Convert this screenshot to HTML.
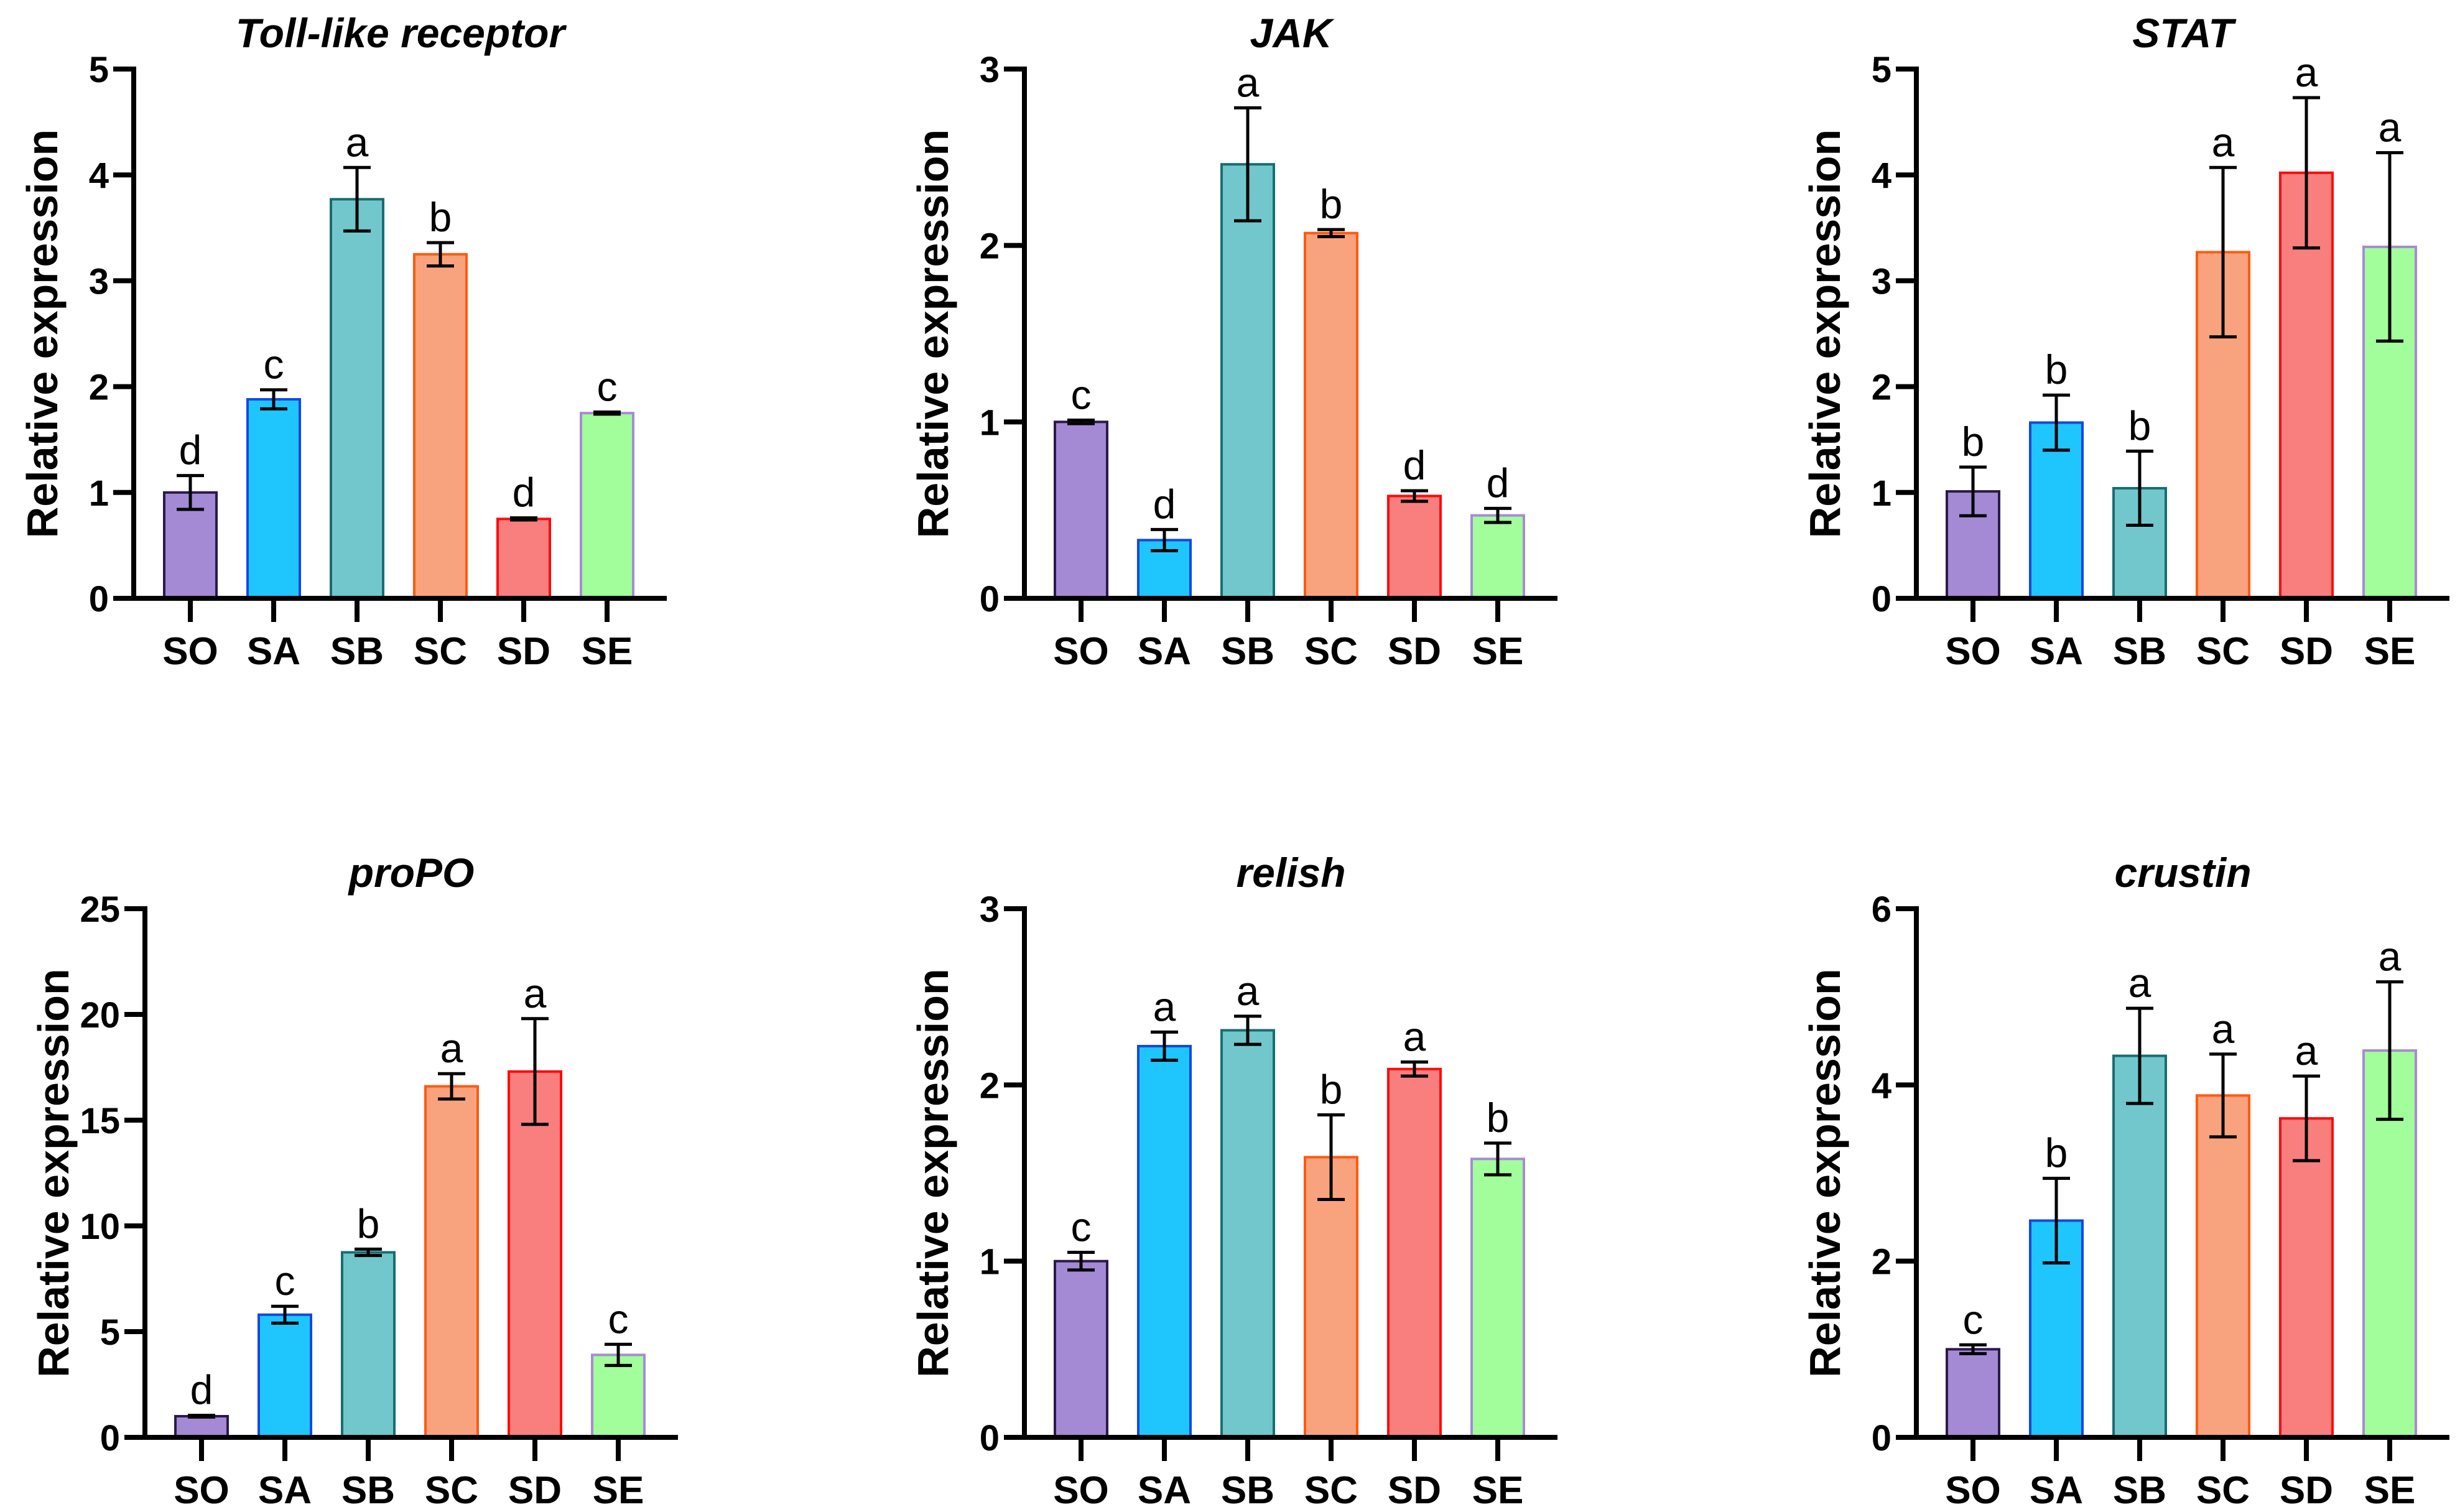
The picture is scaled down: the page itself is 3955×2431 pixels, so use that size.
<!DOCTYPE html>
<html><head><meta charset="utf-8"><style>
html,body{margin:0;padding:0;background:#fff;}
svg{display:block;}
text{font-family:"Liberation Sans",Arial,sans-serif;}
</style></head><body>
<svg id="fig" width="3955" height="2431" viewBox="0 0 3955 2431" xmlns="http://www.w3.org/2000/svg"></svg>
<script>
const categories = ["SO","SA","SB","SC","SD","SE"];
const fills = ["#a48ad4","#1ec6fd","#71c7cc","#f9a37e","#f97e7e","#a2fe9a"];
const strokes = ["#2a1a4a","#1646e6","#176d72","#ff5a10","#ff0a0a","#a68bd6"];

const tollMeans = [1.0,1.88,3.77,3.25,0.75,1.75];
const tollErrs = [0.16,0.09,0.30,0.11,0.01,0.01];
const tollLetters = ["d","c","a","b","d","c"];
const tollTicks = [0,1,2,3,4,5];

const jakMeans = [1.0,0.33,2.46,2.07,0.58,0.47];
const jakErrs = [0.01,0.06,0.32,0.02,0.03,0.04];
const jakLetters = ["c","d","a","b","d","d"];
const jakTicks = [0,1,2,3];

const statMeans = [1.01,1.66,1.04,3.27,4.02,3.32];
const statErrs = [0.23,0.26,0.35,0.80,0.71,0.89];
const statLetters = ["b","b","b","a","a","a"];
const statTicks = [0,1,2,3,4,5];

const propoMeans = [1.0,5.8,8.75,16.6,17.3,3.9];
const propoErrs = [0.04,0.4,0.15,0.6,2.5,0.5];
const propoLetters = ["d","c","b","a","a","c"];
const propoTicks = [0,5,10,15,20,25];

const relishMeans = [1.0,2.22,2.31,1.59,2.09,1.58];
const relishErrs = [0.05,0.08,0.08,0.24,0.04,0.09];
const relishLetters = ["c","a","a","b","a","b"];
const relishTicks = [0,1,2,3];

const crustinMeans = [1.0,2.46,4.33,3.88,3.62,4.39];
const crustinErrs = [0.05,0.48,0.54,0.47,0.48,0.78];
const crustinLetters = ["c","b","a","a","a","a"];
const crustinTicks = [0,2,4,6];

const NS = "http://www.w3.org/2000/svg";
const svg = document.getElementById("fig");
function mk(tag, attrs, parent){
  const e = document.createElementNS(NS, tag);
  for (const k in attrs) e.setAttribute(k, attrs[k]);
  parent.appendChild(e);
  return e;
}

function panel(name, title, axisX, zeroY, topY, means, errs, letters, ticks){
  const g = mk("g", {}, svg);
  
  
  const maxV = ticks[ticks.length-1];
  const y = v => zeroY - (v/maxV)*(zeroY-topY);
  const x = i => axisX + 91 + i*134;
  const axisEnd = axisX + 857;
  const t = mk("text", {x:(axisX+axisEnd)/2, y:topY-35, "text-anchor":"middle", "font-size":66, "font-weight":"bold", "font-style":"italic", fill:"#000"}, g);
  t.textContent = title;
  
  
  const yl = mk("text", {x:0, y:0, transform:`translate(${axisX-123},${(zeroY+topY)/2}) rotate(-90)`, "text-anchor":"middle", "font-size":70, "font-weight":"bold", fill:"#000"}, g);
  yl.textContent = "Relative expression";
  
  
  means.forEach((m,i)=>{
    const r = mk("rect", {x:x(i)-42, y:y(m), width:84, height:zeroY-y(m), fill:fills[i], stroke:strokes[i], "stroke-width":4}, g);
    
    
    const hi = y(m+errs[i]), lo = y(m-errs[i]);
    const eb = mk("path", {d:`M${x(i)} ${hi}V${lo}M${x(i)-22} ${hi}H${x(i)+22}M${x(i)-22} ${lo}H${x(i)+22}`, stroke:"#000", "stroke-width":5, fill:"none"}, g);
    
    
    const lt = mk("text", {x:x(i), y:hi-18, "text-anchor":"middle", "font-size":66, fill:"#000"}, g);
    lt.textContent = letters[i];
    
    
    const tk = mk("line", {x1:x(i), x2:x(i), y1:zeroY, y2:zeroY+38, stroke:"#000", "stroke-width":8}, g);
    
    
    const cl = mk("text", {x:x(i), y:zeroY+106, "text-anchor":"middle", "font-size":62, "font-weight":"bold", fill:"#000"}, g);
    cl.textContent = categories[i];
    
    
  });
  ticks.forEach(v=>{
    const l = mk("line", {x1:axisX-33, x2:axisX, y1:y(v), y2:y(v), stroke:"#000", "stroke-width":8}, g);
    
    
    const tl = mk("text", {x:axisX-40, y:y(v)+21, "text-anchor":"end", "font-size":58, "font-weight":"bold", fill:"#000"}, g);
    tl.textContent = v;
    
    
  });
  const ya = mk("line", {x1:axisX, x2:axisX, y1:topY-4, y2:zeroY+4, stroke:"#000", "stroke-width":8}, g);
  
  
  const xa = mk("line", {x1:axisX-33, x2:axisEnd, y1:zeroY, y2:zeroY, stroke:"#000", "stroke-width":8}, g);
  
  
}

panel("toll-like-receptor","Toll-like receptor",215,962,111,tollMeans,tollErrs,tollLetters,tollTicks);
panel("jak","JAK",1647,962,111,jakMeans,jakErrs,jakLetters,jakTicks);
panel("stat","STAT",3081,962,111,statMeans,statErrs,statLetters,statTicks);
panel("propo","proPO",233,2311,1461,propoMeans,propoErrs,propoLetters,propoTicks);
panel("relish","relish",1647,2311,1461,relishMeans,relishErrs,relishLetters,relishTicks);
panel("crustin","crustin",3081,2311,1461,crustinMeans,crustinErrs,crustinLetters,crustinTicks);
</script>
</body></html>
